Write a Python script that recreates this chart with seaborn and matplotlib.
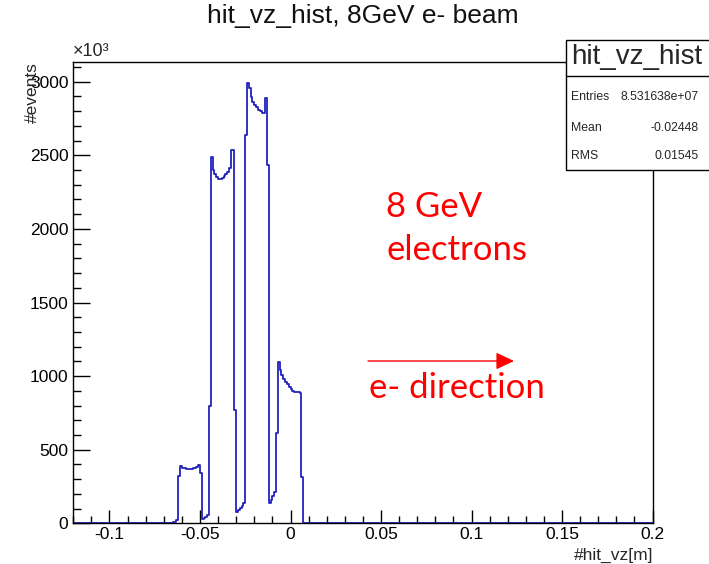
import numpy as np
import pandas as pd
import matplotlib
matplotlib.use("Agg")
import matplotlib.pyplot as plt
from matplotlib.patches import Rectangle, FancyArrowPatch
from matplotlib.lines import Line2D
import seaborn as sns

# ---------------- data ----------------
bin_lo = -0.070          # left edge of first listed bin [m]
bin_width = 0.001        # [m]
x_range = (-0.12, 0.2)   # histogram axis range [m]
# counts per bin, in units of 10^3 events
counts_k = [
    0, 0, 1, 2, 5, 8, 12, 20,                                  # -0.070 .. -0.063
    320, 388, 378, 375, 372, 371, 372, 372, 373, 376, 380, 396, 340,   # -0.062 .. -0.050
    28, 33, 40, 56,                                            # -0.049 .. -0.046
    800, 2490, 2400, 2370, 2355, 2340, 2337, 2345, 2360, 2373, 2390, 2411, 2536, 2536, 770,  # -0.045 .. -0.031
    79, 90, 104, 118, 136,                                     # -0.030 .. -0.026
    2640, 2990, 2960, 2898, 2864, 2845, 2826, 2808, 2800, 2785, 2790, 2890, 2434,  # -0.025 .. -0.013
    136, 160, 185, 210,                                        # -0.012 .. -0.009
    611, 1098, 1040, 1007, 980, 962, 945, 928, 910, 900, 894, 891, 889, 888, 317,  # -0.008 .. 0.006
    0, 0, 0,                                                   # 0.007 .. 0.009
]
x_ticks = [-0.1, -0.05, 0, 0.05, 0.1, 0.15, 0.2]
x_tick_labels = ["-0.1", "-0.05", "0", "0.05", "0.1", "0.15", "0.2"]
y_ticks = [0, 500, 1000, 1500, 2000, 2500, 3000]
y_max = 3134
stats_labels = ["Entries", "Mean", "RMS"]
stats_values = ["8.531638e+07", "-0.02448", "0.01545"]

# ---------------- build histogram frame ----------------
n = len(counts_k)
inner_edges = np.round(bin_lo + bin_width * np.arange(n + 1), 4)
edges = [float(e) for e in np.concatenate([[x_range[0]], inner_edges, [x_range[1]]])]
weights = np.concatenate([[0.0], np.array(counts_k, float), [0.0]])
centers = 0.5 * (np.array(edges[:-1]) + np.array(edges[1:]))
df = pd.DataFrame({"vz": centers, "w": weights})

# ---------------- figure ----------------
sns.set_theme(style="white")
plt.rcParams["font.family"] = ["Liberation Sans", "DejaVu Sans"]

W, H = 709, 564
fig = plt.figure(figsize=(W / 100, H / 100), dpi=100)

def fx(px):
    return px / W

def fy(py):
    return 1 - py / H

ax_l, ax_r, ax_t, ax_b = 73.3, 652.5, 62.0, 523.3
ax = fig.add_axes([fx(ax_l), fy(ax_b), fx(ax_r - ax_l), (ax_b - ax_t) / H])

sns.histplot(data=df, x="vz", weights="w", bins=edges, element="step",
             fill=False, color="#2222bb", linewidth=1.3, ax=ax)

ax.set_xlim(*x_range)
ax.set_ylim(0, y_max)
ax.set_xlabel("")
ax.set_ylabel("")
ax.set_xticks(x_ticks)
ax.set_xticklabels(x_tick_labels)
ax.set_yticks(y_ticks)
ax.set_xticks(np.round(np.arange(-0.12, 0.2001, 0.01), 3), minor=True)
ax.set_yticks(np.arange(0, y_max, 100), minor=True)
ax.tick_params(axis="both", which="both", direction="in", colors="black",
               labelsize=12.5, width=1.0)
ax.tick_params(axis="x", which="major", length=9.5, pad=3)
ax.tick_params(axis="x", which="minor", length=5)
ax.tick_params(axis="y", which="major", length=12, pad=3.5)
ax.tick_params(axis="y", which="minor", length=6)
ax.tick_params(bottom=True, left=True, top=False, right=False)
ax.tick_params(which="minor", bottom=True, left=True, top=False, right=False)
for s in ax.spines.values():
    s.set_color("black")
    s.set_linewidth(1.0)
ax.grid(False)

# titles and axis labels
fig.text(fx(363), fy(16), "hit_vz_hist, 8GeV e- beam", ha="center", va="center",
         fontsize=19, color="#111111")
fig.text(fx(32), fy(62), "#events", rotation=90, ha="center", va="top",
         fontsize=12.5)
fig.text(fx(73), fy(51), "\u00d710\u00b3", ha="left", va="center", fontsize=13)
fig.text(fx(653), fy(555), "#hit_vz[m]", ha="right", va="center", fontsize=12.5)

# stats box
box_l, box_t, box_b = 566, 40, 170
fig.patches.append(Rectangle((fx(box_l), fy(box_b)), fx(W + 5 - box_l), (box_b - box_t) / H,
                             transform=fig.transFigure, facecolor="white",
                             edgecolor="black", linewidth=1.0, zorder=5))
fig.lines.append(Line2D([fx(box_l), 1.0], [fy(75.7), fy(75.7)], transform=fig.transFigure,
                        color="black", linewidth=1.0, zorder=6))
fig.text(fx(637), fy(57), "hit_vz_hist", ha="center", va="center", fontsize=20, zorder=7)
rows_y = [97, 128, 156]
for lab, val, yy in zip(stats_labels, stats_values, rows_y):
    fig.text(fx(571), fy(yy), lab, ha="left", va="center", fontsize=8.8, zorder=7)
    fig.text(fx(699), fy(yy), val, ha="right", va="center", fontsize=8.8, zorder=7)

# red annotations
red = "#ff0000"
fig.text(fx(386), fy(217), "8 GeV", ha="left", va="baseline", fontsize=25,
         color=red, family=["Lato", "DejaVu Sans"])
fig.text(fx(386), fy(260), "electrons", ha="left", va="baseline", fontsize=25,
         color=red, family=["Lato", "DejaVu Sans"])
fig.text(fx(369), fy(398), "e- direction", ha="left", va="baseline", fontsize=25,
         color=red, family=["Lato", "DejaVu Sans"])
fig.patches.append(FancyArrowPatch(
    (fx(368), fy(361)), (fx(514), fy(361)), transform=fig.transFigure,
    arrowstyle="-|>,head_length=11,head_width=5.2", mutation_scale=1,
    color=red, linewidth=1.0, shrinkA=0, shrinkB=0))

fig.savefig("out.png", dpi=100)
